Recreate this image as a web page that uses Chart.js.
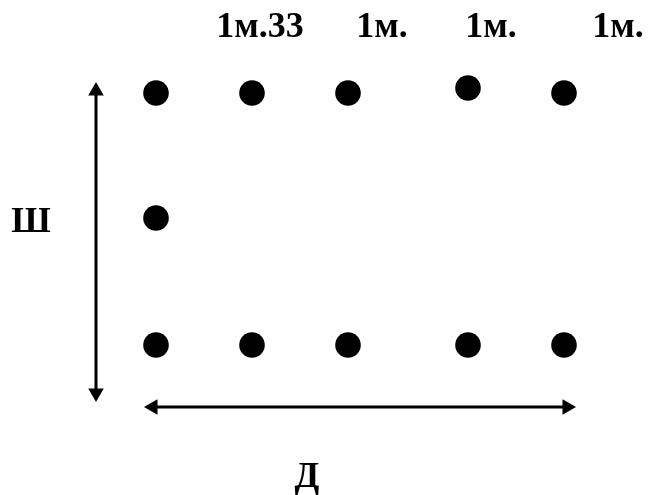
<!DOCTYPE html>
<html>
<head>
<meta charset="utf-8">
<script src="https://cdn.jsdelivr.net/npm/chart.js@4"></script>
<style>
  html, body { margin: 0; padding: 0; background: #fff; }
  #wrap { width: 648px; height: 495px; }
</style>
</head>
<body>
<div id="wrap"><canvas id="planChart"></canvas></div>
<script>
// Post positions (drawing units)
const topRowX = [156, 252, 348, 468, 564];
const topRowY = [93, 93, 93, 88, 93];
const midRowX = [156];
const midRowY = [218];
const bottomRowX = [156, 252, 348, 468, 564];
const bottomRowY = [345, 345, 345, 345, 345];

// Dimension arrows (width Ш, length Д)
const widthArrowX = [96, 96];
const widthArrowY = [91, 393];
const lengthArrowX = [153, 567];
const lengthArrowY = [407, 407];

// Spacing labels above the top row
const spacingLabels = ['1м.33', '1м.', '1м.', '1м.'];
const spacingLabelX = [260, 382, 491, 618];
const spacingLabelY = 37;
const widthLabel = { text: 'Ш', x: 31, y: 232 };
const lengthLabel = { text: 'Д', x: 307, y: 487 };

function toPoints(xs, ys) {
    return xs.map((x, i) => ({ x: x, y: ys[i] }));
}

const dotStyle = {
    showLine: false,
    pointRadius: 12.8,
    pointBackgroundColor: '#000',
    pointBorderColor: '#000',
    pointBorderWidth: 0
};

const arrowStyle = {
    showLine: true,
    borderColor: '#000',
    borderWidth: 3,
    pointStyle: 'triangle',
    pointRadius: 9,
    pointBackgroundColor: '#000',
    pointBorderColor: '#000',
    pointBorderWidth: 0
};

// draws the text labels through the chart's scales
const labelPlugin = {
    id: 'planLabels',
    afterDraw(chart) {
        const c = chart.ctx;
        const sx = chart.scales.x, sy = chart.scales.y;
        c.save();
        c.fillStyle = '#000';
        c.textAlign = 'center';
        c.textBaseline = 'alphabetic';
        c.font = 'bold 36px "Liberation Serif", "Times New Roman", serif';
        spacingLabels.forEach((t, i) => {
            c.fillText(t, sx.getPixelForValue(spacingLabelX[i]), sy.getPixelForValue(spacingLabelY));
        });
        c.fillText(widthLabel.text, sx.getPixelForValue(widthLabel.x), sy.getPixelForValue(widthLabel.y));
        c.fillText(lengthLabel.text, sx.getPixelForValue(lengthLabel.x), sy.getPixelForValue(lengthLabel.y));
        c.restore();
    }
};

const ctx = document.getElementById('planChart').getContext('2d');
new Chart(ctx, {
    type: 'scatter',
    data: {
        datasets: [
            { data: toPoints(topRowX, topRowY), ...dotStyle },
            { data: toPoints(midRowX, midRowY), ...dotStyle },
            { data: toPoints(bottomRowX, bottomRowY), ...dotStyle },
            { data: toPoints(widthArrowX, widthArrowY), ...arrowStyle, pointRotation: [0, 180] },
            { data: toPoints(lengthArrowX, lengthArrowY), ...arrowStyle, pointRotation: [270, 90] }
        ]
    },
    options: {
        responsive: true,
        maintainAspectRatio: false,
        animation: false,
        clip: false,
        layout: { padding: 0, autoPadding: false },
        plugins: { legend: { display: false }, tooltip: { enabled: false } },
        scales: {
            x: { type: 'linear', min: 0, max: 648, display: false },
            y: { type: 'linear', min: 0, max: 495, reverse: true, display: false }
        }
    },
    plugins: [labelPlugin]
});
</script>
</body>
</html>
